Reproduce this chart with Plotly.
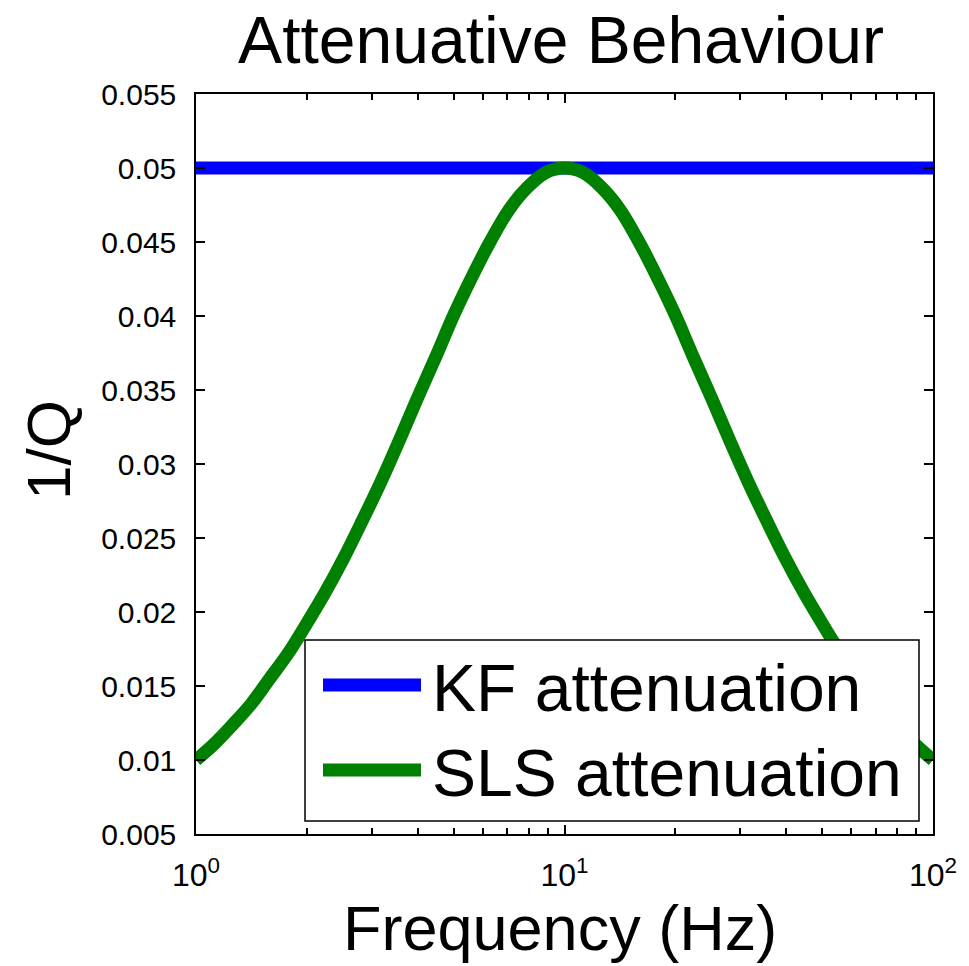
import plotly.graph_objects as go

# ---- data ----
freq_hz = [1, 1.122, 1.259, 1.413, 1.585, 1.778, 1.995, 2.239, 2.512, 2.818,
           3.162, 3.548, 3.981, 4.467, 5.012, 5.623, 6.310, 7.079, 7.943, 8.913,
           10, 11.22, 12.59, 14.13, 15.85, 17.78, 19.95, 22.39, 25.12, 28.18,
           31.62, 35.48, 39.81, 44.67, 50.12, 56.23, 63.10, 70.79, 79.43, 89.13, 100]
sls_inv_q = [0.0100, 0.0111, 0.0124, 0.0138, 0.0155, 0.0172, 0.0192, 0.0213, 0.0236, 0.0261,
             0.0287, 0.0315, 0.0344, 0.0372, 0.0401, 0.0427, 0.0451, 0.0472, 0.0487, 0.0497,
             0.0500, 0.0497, 0.0487, 0.0472, 0.0451, 0.0427, 0.0401, 0.0372, 0.0344, 0.0315,
             0.0287, 0.0261, 0.0236, 0.0213, 0.0192, 0.0172, 0.0155, 0.0138, 0.0124, 0.0111, 0.0100]
kf_freq_hz = [1, 100]
kf_inv_q = [0.05, 0.05]

series_names = ["KF attenuation", "SLS attenuation"]
series_colors = ["#0000FF", "#008000"]

x_major_vals = [1, 10, 100]
x_major_text = ["10<sup>0</sup>", "10<sup>1</sup>", "10<sup>2</sup>"]
x_minor_vals = [2, 3, 4, 5, 6, 7, 8, 9, 20, 30, 40, 50, 60, 70, 80, 90]
y_tick_vals = [0.005, 0.01, 0.015, 0.02, 0.025, 0.03, 0.035, 0.04, 0.045, 0.05, 0.055]
y_tick_text = ["0.005", "0.01", "0.015", "0.02", "0.025", "0.03", "0.035", "0.04", "0.045", "0.05", "0.055"]

W, H = 969, 966
L, R, T, B = 196, 36, 94, 132
PW, PH = W - L - R, H - T - B

def px_x(p):
    return (p - L) / PW

def px_y(p):
    return (H - B - p) / PH

FONT = "Liberation Sans, Arial, sans-serif"
LW = 13

fig = go.Figure()
fig.add_trace(go.Scatter(x=kf_freq_hz, y=kf_inv_q, mode="lines", name=series_names[0],
                         line=dict(color=series_colors[0], width=LW), showlegend=False))
fig.add_trace(go.Scatter(x=freq_hz, y=sls_inv_q, mode="lines", name=series_names[1],
                         line=dict(color=series_colors[1], width=LW, shape="spline", smoothing=1),
                         showlegend=False))

axis_common = dict(showgrid=False, zeroline=False, showline=True, linecolor="black",
                   linewidth=1.5, mirror="allticks", ticks="inside", tickcolor="black",
                   tickwidth=1.5)

fig.update_xaxes(type="log", range=[0, 2], tickvals=x_major_vals, ticktext=x_major_text,
                 ticklen=9, ticklabelstandoff=12,
                 tickfont=dict(family=FONT, size=32, color="black"),
                 minor=dict(tickvals=x_minor_vals, ticks="inside", ticklen=6,
                            tickcolor="black", tickwidth=1.5),
                 **axis_common)
fig.update_yaxes(range=[0.005, 0.055], tickvals=y_tick_vals, ticktext=y_tick_text,
                 ticklen=9, ticklabelstandoff=12,
                 tickfont=dict(family=FONT, size=30, color="black"), **axis_common)

# legend box drawn manually (MATLAB-style long line samples)
shapes = [dict(type="rect", xref="paper", yref="paper",
               x0=px_x(305), x1=px_x(919), y0=px_y(821), y1=px_y(640),
               line=dict(color="black", width=1.5), fillcolor="white", layer="above")]
legend_rows_y = [685, 770]
annotations = []
for name, col, yy in zip(series_names, series_colors, legend_rows_y):
    shapes.append(dict(type="line", xref="paper", yref="paper",
                       x0=px_x(323), x1=px_x(421), y0=px_y(yy), y1=px_y(yy),
                       line=dict(color=col, width=LW), layer="above"))
    annotations.append(dict(text=name, xref="paper", yref="paper", x=px_x(430), y=px_y(yy + 3),
                            xanchor="left", yanchor="middle", showarrow=False,
                            font=dict(family=FONT, size=66, color="black")))

annotations.append(dict(text="Frequency (Hz)", xref="paper", yref="paper",
                        x=px_x(560), y=px_y(928), xanchor="center", yanchor="middle",
                        showarrow=False, font=dict(family=FONT, size=63, color="black")))
annotations.append(dict(text="1/Q", xref="paper", yref="paper", textangle=-90,
                        x=px_x(48), y=px_y(450), xanchor="center", yanchor="middle",
                        showarrow=False, font=dict(family=FONT, size=62, color="black")))

fig.update_layout(
    width=W, height=H,
    margin=dict(l=L, r=R, t=T, b=B),
    paper_bgcolor="white", plot_bgcolor="white",
    title=dict(text="Attenuative Behaviour", x=561 / W, xanchor="center",
               y=1 - 40 / H, yanchor="middle", yref="container",
               font=dict(family=FONT, size=66, color="black")),
    shapes=shapes, annotations=annotations, showlegend=False,
)

fig.write_html("out.html")
